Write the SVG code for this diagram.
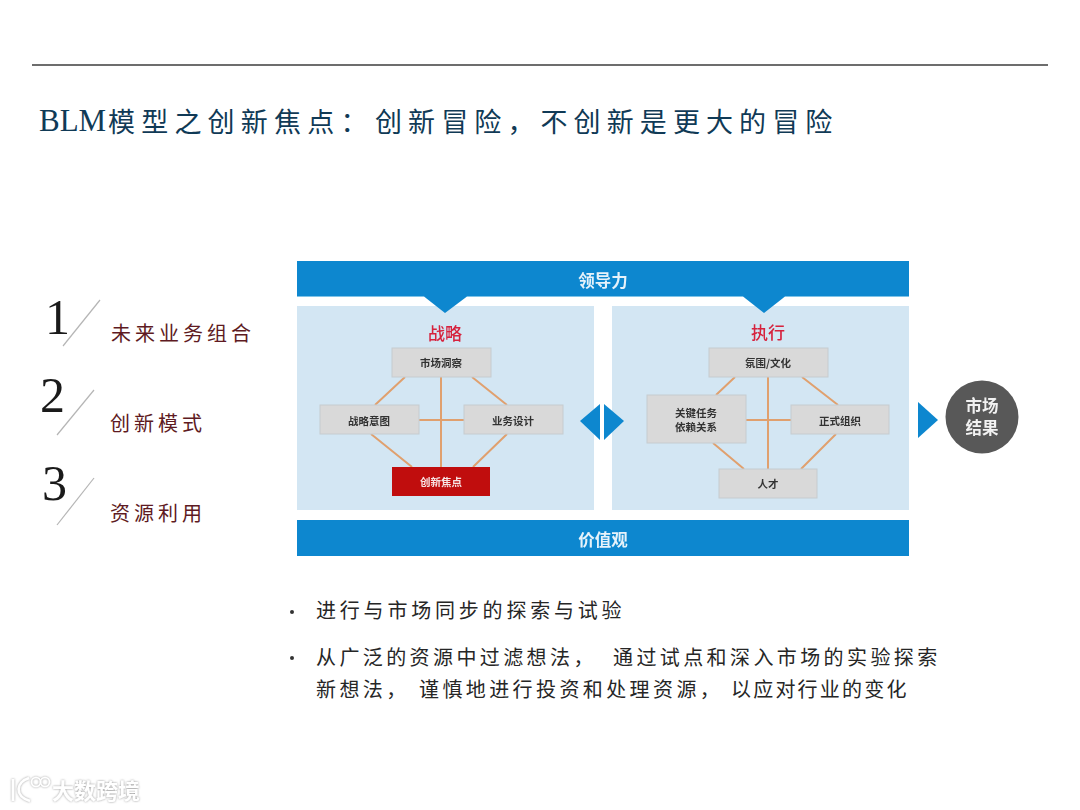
<svg xmlns="http://www.w3.org/2000/svg" width="1080" height="810" viewBox="0 0 1080 810">
<defs>
<filter id="soft" x="-5%" y="-5%" width="110%" height="110%"><feGaussianBlur stdDeviation="0.45"/></filter>
<filter id="wm" x="-20%" y="-30%" width="140%" height="160%"><feDropShadow dx="0" dy="0" stdDeviation="1.3" flood-color="#8f8f8f" flood-opacity="0.95"/></filter>
</defs>
<style>
text{font-family:"Liberation Serif","Noto Sans CJK SC",serif}
.s{font-family:"Noto Sans CJK SC","Liberation Sans",sans-serif}
.bar{fill:#0b87cf}
.panel{fill:#d3e6f3}
.box{fill:#d9d9d9;stroke:#c6cbcf;stroke-width:1}
.lbl{font-family:"Noto Sans CJK SC","Liberation Sans",sans-serif;font-size:10.5px;font-weight:700;fill:#333;text-anchor:middle}
.hd{font-family:"Noto Sans CJK SC","Liberation Sans",sans-serif;font-size:17px;font-weight:500;fill:#d6203c;text-anchor:middle}
.bt{font-family:"Noto Sans CJK SC","Liberation Sans",sans-serif;font-size:16.5px;font-weight:700;fill:#e6f2fa;text-anchor:middle}
.ln{stroke:#e0a06e;stroke-width:2;fill:none}
.num{font-size:50px;fill:#1a1a1a}
.sl{stroke:#b5b5b5;stroke-width:1.2}
.it{font-family:"Noto Sans CJK SC",sans-serif;font-size:20px;letter-spacing:4px;fill:#5e1a22}
.body{font-family:"Noto Sans CJK SC",sans-serif;font-size:20px;letter-spacing:3.4px;fill:#262626}
.ttl{font-size:31px;fill:#103a56}
.cjk{font-family:"Noto Sans CJK SC",sans-serif;font-size:27px;fill:#103a56}
</style>
<rect width="1080" height="810" fill="#fff"/>
<line x1="32" y1="65" x2="1048" y2="65" stroke="#3c3c3c" stroke-width="1.6"/>
<text class="ttl" x="39" y="131">BLM</text>
<text class="cjk" x="108" y="132" style="letter-spacing:6.2px">模型之创新焦点&#xFF1A;</text>
<text class="cjk" x="375" y="132" style="letter-spacing:6.1px">创新冒险&#xFF0C;不创新是更大的冒险</text>

<g id="item-1"><text class="num" x="45" y="334">1</text><line class="sl" x1="100" y1="300" x2="63" y2="346"/><text class="it" x="111" y="341">未来业务组合</text></g>
<g id="item-2"><text class="num" x="40" y="412">2</text><line class="sl" x1="94" y1="390" x2="57" y2="435"/><text class="it" x="110" y="431">创新模式</text></g>
<g id="item-3"><text class="num" x="42" y="500">3</text><line class="sl" x1="94" y1="478" x2="57" y2="525"/><text class="it" x="110" y="521">资源利用</text></g>

<g filter="url(#soft)">
<g id="panel-left"><rect class="panel" x="297" y="306" width="297" height="204"/><text class="hd" x="445" y="340">战略</text></g>
<g id="panel-right"><rect class="panel" x="612" y="306" width="297" height="204"/><text class="hd" x="768" y="339">执行</text></g>
<g id="leadership"><path class="bar" d="M297 261H909V296.5H785L764 313L743 296.5H467L445 313L424 296.5H297Z"/><text class="bt" x="603" y="287">领导力</text></g>
<g id="values"><rect class="bar" x="297" y="520" width="612" height="36"/><text class="bt" x="603" y="546">价值观</text></g>
<g id="connectors">
<path class="ln" d="M405 377L375 405M441 377V467M472 377L507 405M419 420H464M371 434L412 467M507 434L473 467"/>
<path class="ln" d="M735 377L716 395M768 377V469M802 377L838 405M746 420H791M713 443L744 469M836 434L801 469"/>
</g>
<g id="n-market"><rect class="box" x="392" y="348" width="99" height="29"/><text class="lbl" x="441" y="367">市场洞察</text></g>
<g id="n-intent"><rect class="box" x="320" y="405" width="99" height="29"/><text class="lbl" x="369" y="425">战略意图</text></g>
<g id="n-design"><rect class="box" x="464" y="405" width="99" height="29"/><text class="lbl" x="513" y="425">业务设计</text></g>
<g id="n-focus"><rect x="392" y="467" width="98" height="29" fill="#c00d0d"/><text class="lbl" x="441" y="486" style="fill:#f6e3e3">创新焦点</text></g>
<g id="n-climate"><rect class="box" x="709" y="348" width="119" height="29"/><text class="lbl" x="768" y="367">氛围/文化</text></g>
<g id="n-tasks"><rect class="box" x="647" y="395" width="99" height="48"/><text class="lbl" x="696" y="417">关键任务</text><text class="lbl" x="696" y="431">依赖关系</text></g>
<g id="n-org"><rect class="box" x="791" y="405" width="98" height="29"/><text class="lbl" x="840" y="425">正式组织</text></g>
<g id="n-talent"><rect class="box" x="719" y="469" width="98" height="29"/><text class="lbl" x="768" y="488">人才</text></g>
<g id="arrows" class="bar"><path d="M580 421L600 404V440Z"/><path d="M604 404L624 421L604 440Z"/><path d="M918 402L938 420L918 438Z"/></g>
<g id="n-result"><circle cx="982" cy="417" r="36.5" fill="#585858"/><text x="982" y="412" class="s" text-anchor="middle" font-size="16.5" font-weight="700" fill="#f2f2f2">市场</text><text x="982" y="434" class="s" text-anchor="middle" font-size="16.5" font-weight="700" fill="#f2f2f2">结果</text></g>
</g>

<circle cx="292" cy="612" r="2" fill="#333"/>
<text class="body" x="316" y="618" style="letter-spacing:3.8px">进行与市场同步的探索与试验</text>
<circle cx="292" cy="658" r="2" fill="#333"/>
<text class="body" x="316" y="665">从广泛的资源中过滤想法&#xFF0C;</text>
<text class="body" x="613" y="665">通过试点和深入市场的实验探索</text>
<text class="body" x="316" y="697">新想法&#xFF0C;</text>
<text class="body" x="419" y="697">谨慎地进行投资和处理资源&#xFF0C;</text>
<text class="body" x="731" y="697" style="letter-spacing:2.2px">以应对行业的变化</text>

<g id="watermark" filter="url(#wm)">
<path d="M13 779V801M29 778C16 782 14 796 30 801" fill="none" stroke="#fff" stroke-width="2.6"/>
<circle cx="36" cy="782" r="4.5" fill="none" stroke="#fff" stroke-width="1.7"/>
<circle cx="45" cy="782" r="4.5" fill="none" stroke="#fff" stroke-width="1.7"/>
<text x="52" y="799" style="font-family:'Noto Sans CJK SC',sans-serif;font-size:22px;font-weight:700;fill:#fff">大数跨境</text>
</g>
</svg>
